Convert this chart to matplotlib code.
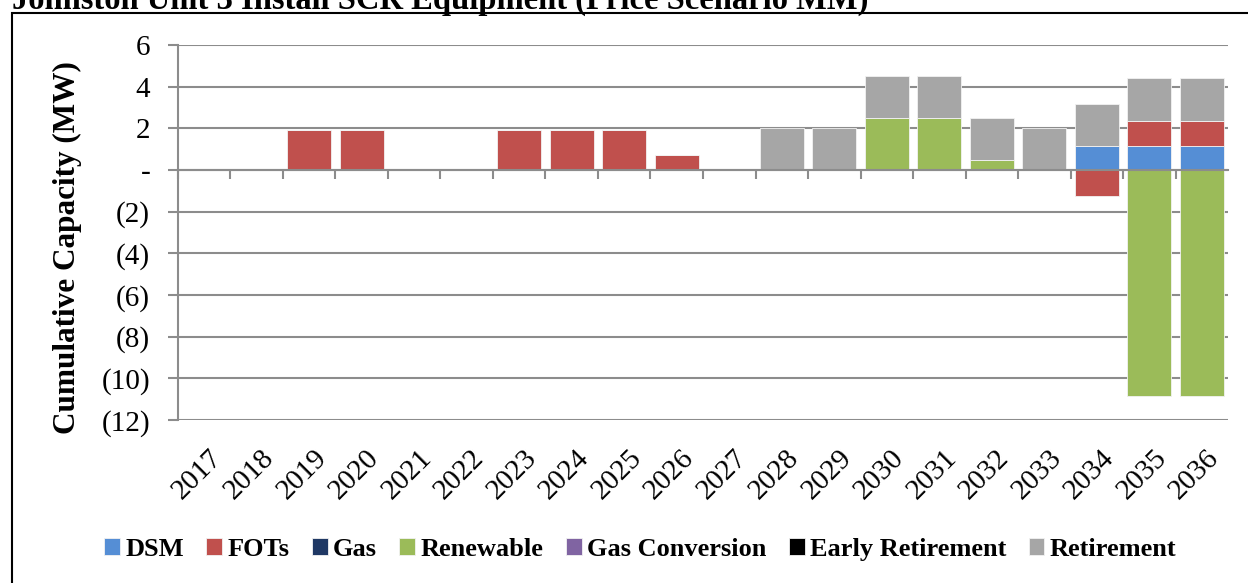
"""
Johnston Unit 3 - 累计容量堆叠柱状图
"""

import numpy as np
import matplotlib
matplotlib.use("Agg")
import matplotlib.pyplot as plt
from matplotlib.patches import Rectangle
from matplotlib.ticker import FuncFormatter, MultipleLocator
from matplotlib.transforms import blended_transform_factory

plt.rcParams['font.family'] = ['Liberation Serif', 'DejaVu Serif']

# 1. 数据
years = [str(y) for y in range(2017, 2037)]
series_names = ['DSM', 'FOTs', 'Gas', 'Renewable', 'Gas Conversion',
                'Early Retirement', 'Retirement']
series_colors = ['#558ED5', '#C0504D', '#1F3864', '#9BBB59', '#8064A2',
                 '#000000', '#A6A6A6']

dsm = [0, 0, 0, 0, 0, 0, 0, 0, 0, 0, 0, 0, 0, 0, 0, 0, 0, 1.17, 1.17, 1.17]
fots = [0, 0, 1.9, 1.9, 0, 0, 1.9, 1.9, 1.9, 0.7, 0, 0, 0, 0, 0, 0, 0, -1.23, 1.2, 1.2]
gas = [0] * 20
renewable = [0, 0, 0, 0, 0, 0, 0, 0, 0, 0, 0, 0, 0, 2.5, 2.5, 0.5, 0, 0, -10.85, -10.85]
gas_conversion = [0] * 20
early_retirement = [0] * 20
retirement = [0, 0, 0, 0, 0, 0, 0, 0, 0, 0, 0, 2.04, 2.04, 2.0, 2.0, 2.0, 2.04, 2.0, 2.05, 2.05]

all_series = [dsm, fots, gas, renewable, gas_conversion, early_retirement, retirement]

# 2. 画图
fig = plt.figure(figsize=(12.48, 5.83), dpi=100)
ax = fig.add_axes([0.1426, 0.2796, 0.8414, 0.6432])

x = np.arange(len(years))
pos_bottom = np.zeros(len(years))
neg_bottom = np.zeros(len(years))
for name, vals, color in zip(series_names, all_series, series_colors):
    v = np.array(vals, dtype=float)
    bottom = np.where(v >= 0, pos_bottom, neg_bottom)
    ax.bar(x, v, width=0.83, bottom=bottom, color=color, label=name,
           edgecolor='#F2F2F2', linewidth=0.6, zorder=3)
    pos_bottom += np.where(v > 0, v, 0)
    neg_bottom += np.where(v < 0, v, 0)

ax.set_xlim(-0.5, len(years) - 0.5)
ax.set_ylim(-12, 6)
ax.yaxis.set_major_locator(MultipleLocator(2))


def fmt(v, pos):
    v = int(round(v))
    if v == 0:
        return '-'
    if v < 0:
        return f'({-v})'
    return f'{v}'


ax.yaxis.set_major_formatter(FuncFormatter(fmt))
ax.grid(axis='y', color='#8C8C8C', linewidth=1.5, zorder=0)
ax.tick_params(axis='y', length=7, width=1.5, color='#8C8C8C', pad=13, labelsize=21)

for s in ['top', 'right']:
    ax.spines[s].set_visible(False)
ax.spines['left'].set_color('#8C8C8C')
ax.spines['left'].set_linewidth(1.5)
ax.spines['bottom'].set_position(('data', 0))
ax.spines['bottom'].set_color('#8C8C8C')
ax.spines['bottom'].set_linewidth(1.5)
ax.spines['bottom'].set_zorder(4)

# x 轴刻度: 在零线处的分隔刻度
ax.set_xticks(x - 0.5, minor=False)
ax.set_xticklabels([])
ax.tick_params(axis='x', length=6.5, width=1.5, color='#8C8C8C', direction='out')

# 年份标签在底部
trans = blended_transform_factory(ax.transData, ax.transAxes)
for i, yr in enumerate(years):
    ax.text(i + 0.08, -0.065, yr, transform=trans, rotation=45,
            rotation_mode='anchor', ha='right', va='top', fontsize=21)

fig.text(0.054, 0.575, 'Cumulative Capacity (MW)', rotation=90,
         ha='center', va='center', fontsize=22.5, fontweight='bold')

# 标题(顶部被裁切)
fig.text(0.0096, 0.9846, 'Johnston Unit 3 Install SCR Equipment (Price Scenario MM)',
         ha='left', va='baseline', fontsize=23.5, fontweight='bold')

# 图例
fig.legend(loc='center', bbox_to_anchor=(0.513, 0.058), ncol=7, frameon=False,
           prop={'weight': 'bold', 'size': 19}, handlelength=0.6, handleheight=0.6,
           handletextpad=0.2, columnspacing=0.85)

# 外边框
fig.add_artist(Rectangle((0.0096, -0.05), 1.05, 0.05 + 0.9777,
                         transform=fig.transFigure, fill=False,
                         edgecolor='black', linewidth=1.5))

plt.savefig('out.png', dpi=100)
